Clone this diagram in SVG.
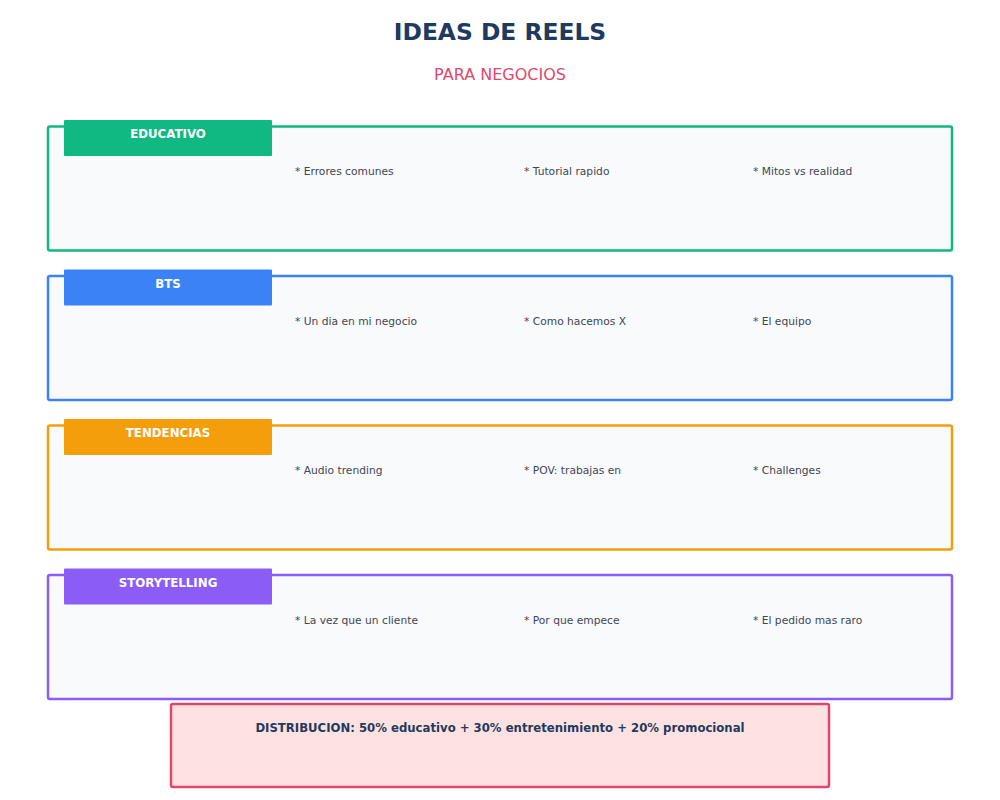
<svg xmlns="http://www.w3.org/2000/svg" width="1000" height="800" viewBox="0 0 1000 800">
<style>
text{font-family:"DejaVu Sans","Liberation Sans",sans-serif}
.title{font-size:23.4px;font-weight:bold;fill:#1e3a5f;text-anchor:middle}
.sub{font-size:16px;fill:#e0486b;text-anchor:middle}
.box{fill:#f8fafc;stroke-width:2.5}
.hdr{font-size:11.8px;font-weight:bold;fill:#ffffff;text-anchor:middle}
.item{font-size:10.7px;fill:#3f4753}
.dist{font-size:11.7px;font-weight:bold;fill:#1e3a5f;text-anchor:middle}
</style>
<rect width="1000" height="800" fill="#ffffff"/>
<text class="title" x="500" y="40">IDEAS DE REELS</text>
<text class="sub" x="500" y="80">PARA NEGOCIOS</text>
<g id="educativo">
<rect class="box" x="48" y="126.5" width="904" height="124" rx="2" stroke="#10b981"/>
<rect x="64" y="120" width="208" height="36" rx="1" fill="#10b981"/>
<text class="hdr" x="168" y="138">EDUCATIVO</text>
<text class="item" x="295" y="175">* Errores comunes</text>
<text class="item" x="524" y="175">* Tutorial rapido</text>
<text class="item" x="753" y="175">* Mitos vs realidad</text>
</g>
<g id="bts">
<rect class="box" x="48" y="276" width="904" height="124" rx="2" stroke="#3b82f6"/>
<rect x="64" y="269.5" width="208" height="36" rx="1" fill="#3b82f6"/>
<text class="hdr" x="168" y="287.5">BTS</text>
<text class="item" x="295" y="324.5">* Un dia en mi negocio</text>
<text class="item" x="524" y="324.5">* Como hacemos X</text>
<text class="item" x="753" y="324.5">* El equipo</text>
</g>
<g id="tendencias">
<rect class="box" x="48" y="425.5" width="904" height="124" rx="2" stroke="#f59e0b"/>
<rect x="64" y="419" width="208" height="36" rx="1" fill="#f59e0b"/>
<text class="hdr" x="168" y="437">TENDENCIAS</text>
<text class="item" x="295" y="474">* Audio trending</text>
<text class="item" x="524" y="474">* POV: trabajas en</text>
<text class="item" x="753" y="474">* Challenges</text>
</g>
<g id="storytelling">
<rect class="box" x="48" y="575" width="904" height="124" rx="2" stroke="#8b5cf6"/>
<rect x="64" y="568.5" width="208" height="36" rx="1" fill="#8b5cf6"/>
<text class="hdr" x="168" y="586.5">STORYTELLING</text>
<text class="item" x="295" y="623.5">* La vez que un cliente</text>
<text class="item" x="524" y="623.5">* Por que empece</text>
<text class="item" x="753" y="623.5">* El pedido mas raro</text>
</g>
<g id="distribucion">
<rect x="171" y="704" width="658" height="83" rx="2" fill="#fee2e2" stroke="#e0486b" stroke-width="2.5"/>
<text class="dist" x="500" y="732">DISTRIBUCION: 50% educativo + 30% entretenimiento + 20% promocional</text>
</g>
<g id="connectors"/>
</svg>
